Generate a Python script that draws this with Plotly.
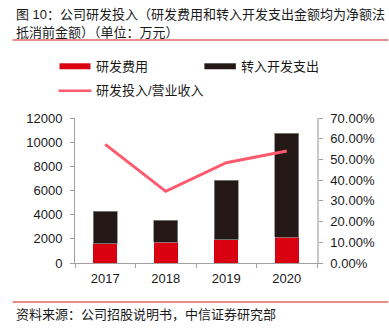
import plotly.graph_objects as go

years = ["2017", "2018", "2019", "2020"]
rd_expense = [1600, 1720, 1920, 2150]
total_rd = [4270, 3550, 6850, 10750]
capitalized = [t - r for t, r in zip(total_rd, rd_expense)]
rd_ratio = [0.573, 0.346, 0.484, 0.541]

W, H = 389, 329
L, R, T, B = 74.5, 316.7, 117.5, 263.3
PW, PH = R - L, B - T

def px(x):
    return (x - L) / PW

def py(y):
    return (B - y) / PH

FONT = "Liberation Sans, Arial, Noto Sans CJK SC"
RED = "#D9000F"
BLACK = "#231815"
PINK = "#FF5A6E"
AX = "#A0A0A0"

fig = go.Figure()
fig.add_trace(go.Bar(x=years, y=rd_expense, name="研发费用", marker=dict(color=RED, line=dict(width=0)),
                     width=0.4, showlegend=False))
fig.add_trace(go.Bar(x=years, y=capitalized, name="转入开发支出",
                     marker=dict(color=BLACK, line=dict(color="#8a8a8a", width=0.8)),
                     width=0.4, showlegend=False))
fig.add_trace(go.Scatter(x=years, y=rd_ratio, name="研发投入/营业收入", yaxis="y2", mode="lines",
                         line=dict(color=PINK, width=3), showlegend=False))

fig.update_layout(
    width=W, height=H,
    margin=dict(l=L, r=W - R, t=T, b=H - B, autoexpand=False),
    paper_bgcolor="white", plot_bgcolor="white",
    barmode="stack",
    font=dict(family=FONT, size=13, color="#1a1a1a"),
    xaxis=dict(showline=True, linecolor=AX, linewidth=1, ticks="outside", tickson="boundaries",
               ticklen=4, tickcolor=AX, showgrid=False, tickfont=dict(size=13), ticklabelstandoff=3),
    yaxis=dict(range=[0, 12000], dtick=2000, tickformat="d", showline=True, linecolor=AX, linewidth=1,
               ticks="outside", ticklen=4, tickcolor=AX, showgrid=False, zeroline=False,
               tickfont=dict(size=13), ticklabelstandoff=5),
    yaxis2=dict(range=[0, 0.7], dtick=0.1, tickformat=".2%", overlaying="y", side="right",
                showline=True, linecolor="#C8C8C8", linewidth=1.5, ticks="outside", ticklen=4,
                tickcolor=AX, showgrid=False, zeroline=False, tickfont=dict(size=13), ticklabelstandoff=5),
)

shapes = []
annotations = []

def line_px(x0, y0, x1, y1, color, width):
    shapes.append(dict(type="line", xref="paper", yref="paper", x0=px(x0), y0=py(y0), x1=px(x1), y1=py(y1),
                       line=dict(color=color, width=width)))

def text_px(x, y, s, size=13):
    annotations.append(dict(xref="paper", yref="paper", x=px(x), y=py(y), text=s, showarrow=False,
                            xanchor="left", yanchor="middle", font=dict(size=size, family=FONT, color="#1a1a1a")))

# title
text_px(13, 13, "图 10：公司研发投入（研发费用和转入开发支出金额均为净额法")
text_px(13, 32, "抵消前金额）（单位：万元）")
line_px(12, 39, 388, 39, "#E06666", 1.5)

# legend
shapes.append(dict(type="rect", xref="paper", yref="paper", x0=px(59), x1=px(90), y0=py(68.5), y1=py(62.5),
                   fillcolor=RED, line=dict(width=0)))
text_px(94, 65.5, "研发费用")
shapes.append(dict(type="rect", xref="paper", yref="paper", x0=px(204), x1=px(235.5), y0=py(68.5), y1=py(62.5),
                   fillcolor=BLACK, line=dict(width=0)))
text_px(239, 65.5, "转入开发支出")
line_px(58, 90, 91, 90, PINK, 2.5)
text_px(94, 90, "研发投入/营业收入")

# source
line_px(12, 302.5, 388, 302.5, "#E06666", 1.5)
text_px(13, 315, "资料来源：公司招股说明书，中信证券研究部")

fig.update_layout(shapes=shapes, annotations=annotations)
fig.write_html("out.html")
